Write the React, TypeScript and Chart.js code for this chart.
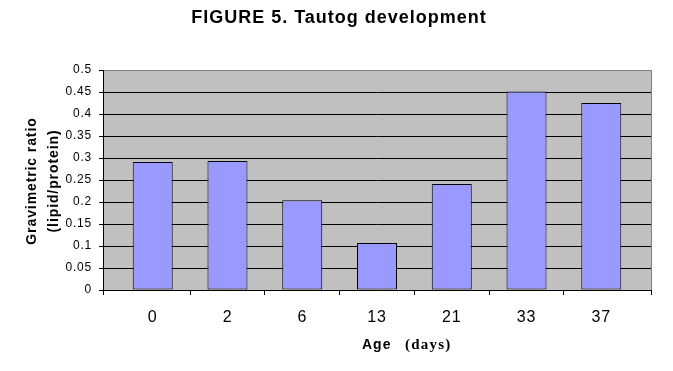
import React, { useEffect, useRef } from 'react';
import { Chart, registerables } from 'chart.js';

Chart.register(...registerables);

const chartTitle = 'FIGURE 5. Tautog development';
const categories = ['0', '2', '6', '13', '21', '33', '37'];
const ratios = [0.291, 0.293, 0.204, 0.107, 0.241, 0.451, 0.425];
const yMin = 0;
const yMax = 0.5;
const yStep = 0.05;
const yTitleLines = ['Gravimetric ratio', '(lipid/protein)'];
const xTitleParts = ['Age', '(days)'];

const SANS = 'Arial, "Liberation Sans", sans-serif';
const SERIF = '"Times New Roman", "Liberation Serif", serif';
const EXTRA = 0.165; // extra category space at each end of the axis

const decor = {
  id: 'decor',
  beforeDraw(chart: any) {
    const { ctx, chartArea } = chart;
    ctx.save();
    ctx.fillStyle = '#ffffff';
    ctx.fillRect(0, 0, chart.width, chart.height);
    ctx.fillStyle = '#C0C0C0';
    ctx.fillRect(chartArea.left, chartArea.top, chartArea.right - chartArea.left, chartArea.bottom - chartArea.top);
    ctx.restore();
    ctx.letterSpacing = '0.8px';
  },
  afterDraw(chart: any) {
    const { ctx, chartArea } = chart;
    ctx.save();
    // right border of plot area
    ctx.strokeStyle = '#808080';
    ctx.lineWidth = 1;
    ctx.beginPath();
    ctx.moveTo(chartArea.right + 0.5, chartArea.top);
    ctx.lineTo(chartArea.right + 0.5, chartArea.bottom);
    ctx.stroke();
    // edge tick marks on the category axis
    ctx.strokeStyle = '#000';
    ctx.beginPath();
    ctx.moveTo(chartArea.left + 0.5, chartArea.bottom);
    ctx.lineTo(chartArea.left + 0.5, chartArea.bottom + 5);
    ctx.moveTo(chartArea.right + 0.5, chartArea.bottom);
    ctx.lineTo(chartArea.right + 0.5, chartArea.bottom + 5);
    ctx.stroke();

    ctx.fillStyle = '#000';
    // title
    ctx.letterSpacing = '1px';
    ctx.font = `bold 18px ${SANS}`;
    ctx.textAlign = 'center';
    ctx.textBaseline = 'alphabetic';
    ctx.fillText(chartTitle, 339, 23);

    // y axis title (two rotated lines)
    ctx.letterSpacing = '0.9px';
    ctx.font = `bold 14px ${SANS}`;
    const cy = (chartArea.top + chartArea.bottom) / 2 + 1;
    const baseXs = [36, 58];
    yTitleLines.forEach((line, i) => {
      ctx.save();
      ctx.translate(baseXs[i], cy);
      ctx.rotate(-Math.PI / 2);
      ctx.textAlign = 'center';
      ctx.fillText(line, 0, 0);
      ctx.restore();
    });

    // x axis title: mixed fonts
    ctx.textAlign = 'left';
    ctx.letterSpacing = '1px';
    ctx.font = `bold 14px ${SANS}`;
    ctx.fillText(xTitleParts[0], 362, 349);
    ctx.letterSpacing = '1.2px';
    ctx.font = `bold 15px ${SERIF}`;
    ctx.fillText(xTitleParts[1], 405, 349);
    ctx.restore();
  },
};

export default function App() {
  const ref = useRef<HTMLCanvasElement>(null);
  useEffect(() => {
    const canvas = ref.current!;
    const chart = new Chart(canvas, {
      type: 'bar',
      data: {
        labels: categories,
        datasets: [
          {
            data: ratios,
            backgroundColor: '#9999FF',
            borderColor: '#000000',
            borderWidth: 1,
            borderSkipped: false,
            barPercentage: 0.535,
            categoryPercentage: 1,
          },
        ],
      },
      options: {
        responsive: false,
        animation: false,
        devicePixelRatio: 1,
        layout: { padding: { left: 0, top: 70, right: 22, bottom: 0 } },
        plugins: {
          legend: { display: false },
          tooltip: { enabled: false },
          title: { display: false },
        },
        scales: {
          x: {
            offset: true,
            afterBuildTicks: (s: any) => {
              s._startValue = -0.5 - EXTRA;
              s._valueRange = categories.length + 2 * EXTRA;
            },
            afterFit: (s: any) => {
              s.height = 81;
            },
            grid: {
              offset: true,
              drawOnChartArea: false,
              drawTicks: true,
              tickLength: 5,
              tickColor: (c: any) => (c.type === 'tick' && c.index > 0 ? '#000000' : 'rgba(0,0,0,0)'),
            },
            border: { display: true, color: '#000000' },
            ticks: {
              color: '#000000',
              font: { family: SANS, size: 16 },
              padding: 13,
              maxRotation: 0,
              autoSkip: false,
            },
          },
          y: {
            min: yMin,
            max: yMax,
            afterFit: (s: any) => {
              s.width = 103;
            },
            ticks: {
              stepSize: yStep,
              color: '#000000',
              font: { family: SANS, size: 12 },
              padding: 7,
              callback: (v: any) => String(Math.round(Number(v) * 100) / 100),
            },
            grid: {
              color: (c: any) => (c.tick && Math.abs(c.tick.value - yMax) < 1e-9 ? '#808080' : '#000000'),
              tickColor: '#000000',
              tickLength: 4,
              drawTicks: true,
            },
            border: { display: true, color: '#000000' },
          },
        },
      },
      plugins: [decor],
    });
    return () => chart.destroy();
  }, []);
  return (
    <div style={{ position: 'absolute', left: 0, top: 0, width: 673, height: 371, background: '#fff' }}>
      <canvas ref={ref} width={673} height={371} />
    </div>
  );
}
